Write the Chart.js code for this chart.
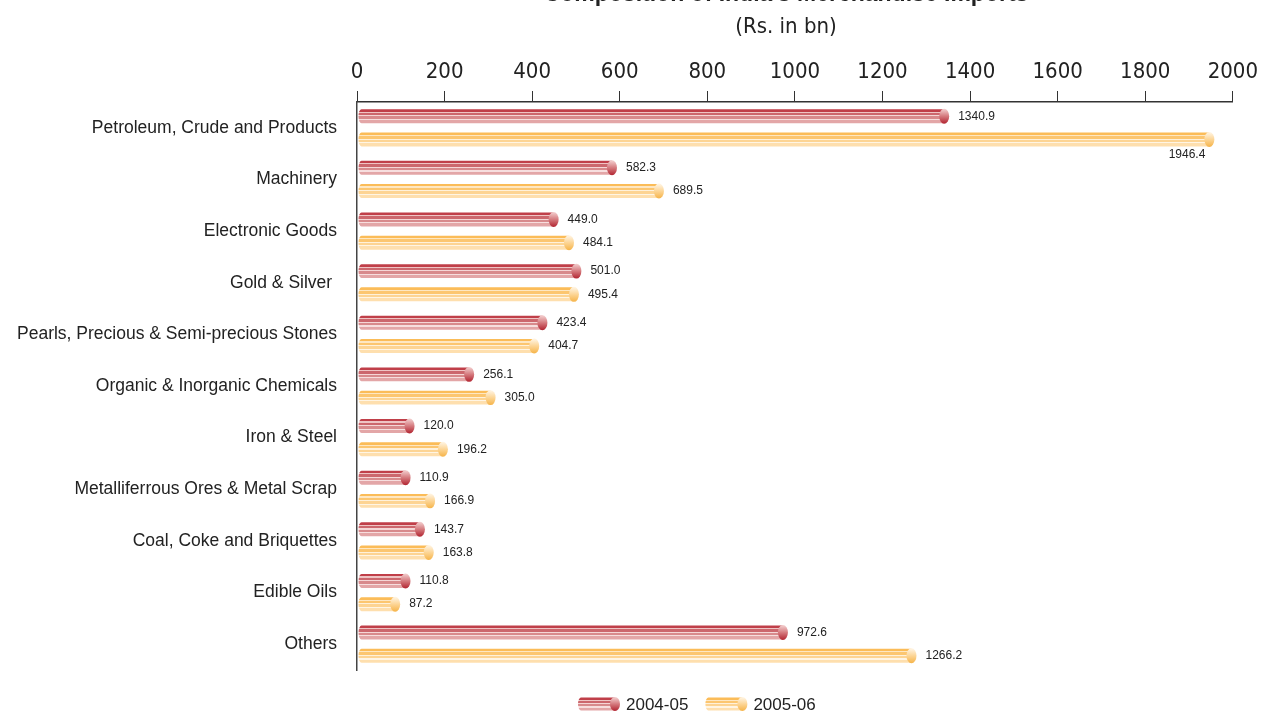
<!DOCTYPE html>
<html>
<head>
<meta charset="utf-8">
<title>Composition of India's Merchandise Imports</title>
<script src="https://cdn.jsdelivr.net/npm/chart.js@4.4.0/dist/chart.umd.min.js"></script>
<style>
  html, body { margin: 0; padding: 0; background: #fff; }
</style>
</head>
<body>
<canvas id="chart" width="1264" height="711"></canvas>
<script>
// imports by commodity group, Rs. in bn
const categories = [
  "Petroleum, Crude and Products",
  "Machinery",
  "Electronic Goods",
  "Gold & Silver ",
  "Pearls, Precious & Semi-precious Stones",
  "Organic & Inorganic Chemicals",
  "Iron & Steel",
  "Metalliferrous Ores & Metal Scrap",
  "Coal, Coke and Briquettes",
  "Edible Oils",
  "Others"
];
const imports0405 = [1340.9, 582.3, 449.0, 501.0, 423.4, 256.1, 120.0, 110.9, 143.7, 110.8, 972.6];
const imports0506 = [1946.4, 689.5, 484.1, 495.4, 404.7, 305.0, 196.2, 166.9, 163.8, 87.2, 1266.2];
const seriesNames = ["2004-05", "2005-06"];
const xTicks = [0, 200, 400, 600, 800, 1000, 1200, 1400, 1600, 1800, 2000];

const titleText = "Composition of India's Merchandise Imports";
const subtitleText = "(Rs. in bn)";

const NARROW = "'Liberation Sans Narrow', 'DejaVu Sans Condensed', 'Arial Narrow', sans-serif";
const SANS = "'Liberation Sans', Arial, sans-serif";

// stripe bands [from, to, colour] across the bar thickness, plus end-cap shading
const styles = [
  {
    stripes: [[0, 0.17, "#c03f49"], [0.17, 0.26, "#efc4c4"], [0.26, 0.44, "#cc676d"],
              [0.44, 0.52, "#f5d6d6"], [0.52, 0.69, "#d88a8c"], [0.69, 0.77, "#f7dede"],
              [0.77, 1, "#e3a6a7"]],
    cap: [[0, "#f2cccc"], [0.5, "#d57a7e"], [1, "#b42a36"]]
  },
  {
    stripes: [[0, 0.17, "#fbbc58"], [0.17, 0.26, "#fee7c2"], [0.26, 0.44, "#fcc670"],
              [0.44, 0.52, "#fff1da"], [0.52, 0.69, "#fdd493"], [0.69, 0.77, "#fff5e4"],
              [0.77, 1, "#fedfae"]],
    cap: [[0, "#fff4e2"], [0.55, "#fcd28e"], [1, "#f6b64e"]]
  }
];

function drawCylinder(ctx, style, x0, x1, yc, h) {
  const top = yc - h / 2;
  const g = ctx.createLinearGradient(0, top, 0, top + h);
  style.stripes.forEach(([a, b, c]) => { g.addColorStop(a, c); g.addColorStop(b, c); });
  const r = Math.min(3, (x1 - x0) / 2);
  ctx.save();
  ctx.beginPath();
  ctx.moveTo(x0 + r, top);
  ctx.lineTo(x1, top);
  ctx.lineTo(x1, top + h);
  ctx.lineTo(x0 + r, top + h);
  ctx.ellipse(x0 + r, yc, r, h / 2, 0, Math.PI / 2, Math.PI * 1.5);
  ctx.closePath();
  ctx.fillStyle = g;
  ctx.fill();

  const cg = ctx.createLinearGradient(0, top, 0, top + h);
  style.cap.forEach(([s, c]) => cg.addColorStop(s, c));
  ctx.beginPath();
  ctx.ellipse(x1, yc, 5, h / 2 + 0.5, 0, 0, Math.PI * 2);
  ctx.fillStyle = cg;
  ctx.fill();
  ctx.restore();
}

const cylinderPlugin = {
  id: "cylinders",
  afterDatasetsDraw(chart) {
    const ctx = chart.ctx;
    const area = chart.chartArea;
    chart.data.datasets.forEach((ds, di) => {
      const meta = chart.getDatasetMeta(di);
      meta.data.forEach((bar, i) => {
        drawCylinder(ctx, styles[di], bar.base + 1, bar.x, bar.y, bar.height);

        const txt = ds.data[i].toFixed(1);
        ctx.save();
        ctx.font = "12px " + SANS;
        ctx.fillStyle = "#222";
        ctx.textBaseline = "middle";
        const w = ctx.measureText(txt).width;
        if (bar.x + 14 + w > area.right) {
          ctx.textAlign = "right";
          ctx.fillText(txt, bar.x - 4, bar.y + 15);
        } else {
          ctx.textAlign = "left";
          ctx.fillText(txt, bar.x + 14, bar.y);
        }
        ctx.restore();
      });
    });
  },
  afterDraw(chart) {
    const ctx = chart.ctx;
    ctx.save();
    // title sits partly above the top edge
    ctx.fillStyle = "#222";
    ctx.textAlign = "center";
    ctx.textBaseline = "alphabetic";
    ctx.font = "bold 23px " + SANS;
    ctx.fillText(titleText, 786, 1);
    ctx.font = "22px " + NARROW;
    ctx.textBaseline = "middle";
    ctx.fillText(subtitleText, 786, 27);

    // legend
    let x = 578;
    const ly = 704;
    ctx.font = "17px " + SANS;
    ctx.textAlign = "left";
    seriesNames.forEach((name, i) => {
      drawCylinder(ctx, styles[i], x, x + 37, ly, 13);
      ctx.fillStyle = "#222";
      ctx.fillText(name, x + 48, ly + 1);
      x += 48 + ctx.measureText(name).width + 17;
    });
    ctx.restore();
  }
};

new Chart(document.getElementById("chart"), {
  type: "bar",
  data: {
    labels: categories,
    datasets: [
      { label: seriesNames[0], data: imports0405, backgroundColor: "rgba(0,0,0,0)", borderWidth: 0 },
      { label: seriesNames[1], data: imports0506, backgroundColor: "rgba(0,0,0,0)", borderWidth: 0 }
    ]
  },
  options: {
    indexAxis: "y",
    responsive: false,
    animation: false,
    devicePixelRatio: 1,
    categoryPercentage: 0.9,
    barPercentage: 0.6,
    layout: { padding: { top: 0, right: 28, bottom: 41, left: 0 } },
    plugins: {
      legend: { display: false },
      title: { display: false },
      tooltip: { enabled: false }
    },
    scales: {
      x: {
        position: "top",
        min: 0,
        max: 2000,
        afterBuildTicks: (scale) => { scale.ticks = xTicks.map(v => ({ value: v })); },
        afterFit: (scale) => { scale.height = 102; },
        ticks: {
          font: { family: NARROW, size: 22 },
          color: "#222",
          padding: 6,
          maxRotation: 0,
          callback: (v) => String(v)
        },
        grid: {
          drawOnChartArea: false,
          drawTicks: true,
          tickLength: 11,
          color: "#333",
          lineWidth: 1
        },
        border: { color: "#333", width: 1.5 }
      },
      y: {
        afterFit: (scale) => { scale.width = 357; },
        ticks: {
          font: { family: SANS, size: 17.5 },
          color: "#222",
          padding: 20
        },
        grid: { display: false, drawTicks: false },
        border: { color: "#444", width: 1.5 }
      }
    }
  },
  plugins: [cylinderPlugin]
});
</script>
</body>
</html>
